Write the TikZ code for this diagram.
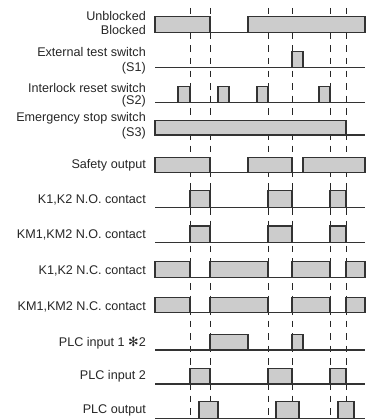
\documentclass[tikz,border=0pt]{standalone}
\usepackage{fontspec}
\setmainfont{Liberation Sans}
\newfontfamily\symfont{DejaVu Sans}
\tikzset{
  sig/.style={draw=black!80, line width=1.1pt},
  hi/.style={sig, fill=black!20},
  guide/.style={draw=black!85, line width=1pt, dash pattern=on 6.5pt off 6pt},
  lbl/.style={anchor=east, inner sep=0pt, text=black!85, font=\fontsize{12.6}{14}\selectfont}
}
\begin{document}
\begin{tikzpicture}[x=1pt,y=-1pt]
    \useasboundingbox (0,0) rectangle (368,420);
    % Guide lines
    \foreach \t in {190,210,268,292,330,346}
        \draw[guide] (\t,8) -- (\t,420);
    % Unblocked / Blocked
    \node[lbl] (ub) at (146,15.5) {Unblocked};
    \node[lbl] (bl) at (146,29.5) {Blocked};
    \draw[sig] (155,32.3) -- (365,32.3);
    \draw[hi] (155,32.3) rectangle (210,16.7);
    \draw[hi] (248,32.3) rectangle (365,16.7);
    % External test switch (S1)
    \node[lbl] (s1a) at (146,51.7) {External test switch};
    \node[lbl] (s1b) at (146,68) {(S1)};
    \draw[sig] (155,67.3) -- (365,67.3);
    \draw[hi] (292,67.3) rectangle (303,51.7);
    % Interlock reset switch (S2)
    \node[lbl] (s2a) at (146,88) {Interlock reset switch};
    \node[lbl] (s2b) at (146,101.7) {(S2)};
    \draw[sig] (155,102.3) -- (365,102.3);
    \foreach \a/\b in {178/190,218/229,257/268,319/330}
        \draw[hi] (\a,102.3) rectangle (\b,86.7);
    % Emergency stop switch (S3)
    \node[lbl] (s3a) at (146,118) {Emergency stop switch};
    \node[lbl] (s3b) at (146,133) {(S3)};
    \draw[sig] (155,135) -- (365,135);
    \draw[hi] (155,135) rectangle (346,120.7);
    \draw[sig, line width=1.8pt] (155.5,135) -- (155.5,120.7);
    % Safety output
    \node[lbl] (so) at (146,165) {Safety output};
    \draw[sig] (155,172.3) -- (365,172.3);
    \foreach \a/\b in {155/210,248/292,303/365}
        \draw[hi] (\a,172.3) rectangle (\b,157.3);
    % K1,K2 N.O. contact
    \node[lbl] (kno) at (146,200) {K1,K2 N.O. contact};
    \draw[sig] (155,207.3) -- (365,207.3);
    \foreach \a/\b in {190/210,268/292,330/346}
        \draw[hi] (\a,207.3) rectangle (\b,190.7);
    % KM1,KM2 N.O. contact
    \node[lbl] (kmno) at (146,235) {KM1,KM2 N.O. contact};
    \draw[sig] (155,242.7) -- (365,242.7);
    \foreach \a/\b in {190/210,268/292,330/346}
        \draw[hi] (\a,242.7) rectangle (\b,226);
    % K1,K2 N.C. contact
    \node[lbl] (knc) at (146,270.7) {K1,K2 N.C. contact};
    \draw[sig] (155,277.7) -- (365,277.7);
    \foreach \a/\b in {155/190,210/268,292/330,346/365}
        \draw[hi] (\a,277.7) rectangle (\b,261.7);
    % KM1,KM2 N.C. contact
    \node[lbl] (kmnc) at (146,306.7) {KM1,KM2 N.C. contact};
    \draw[sig] (155,312.7) -- (365,312.7);
    \foreach \a/\b in {155/190,210/268,292/330,346/365}
        \draw[hi] (\a,312.7) rectangle (\b,297.7);
    % PLC input 1
    \node[lbl] (in1) at (146,342.7) {PLC input 1 {\symfont ✻}2};
    \draw[sig] (155,350) -- (365,350);
    \foreach \a/\b in {210/248,292/303}
        \draw[hi] (\a,350) rectangle (\b,334.3);
    % PLC input 2
    \node[lbl] (in2) at (146,376.7) {PLC input 2};
    \draw[sig] (155,384) -- (365,384);
    \foreach \a/\b in {190/210,268/292,330/346}
        \draw[hi] (\a,384) rectangle (\b,368.3);
    % PLC output
    \node[lbl] (out) at (146,410) {PLC output};
    \draw[sig] (155,418.3) -- (365,418.3);
    \foreach \a/\b in {199/218,276/299,338/354}
        \draw[hi] (\a,418.3) rectangle (\b,401.7);
\end{tikzpicture}
\end{document}
